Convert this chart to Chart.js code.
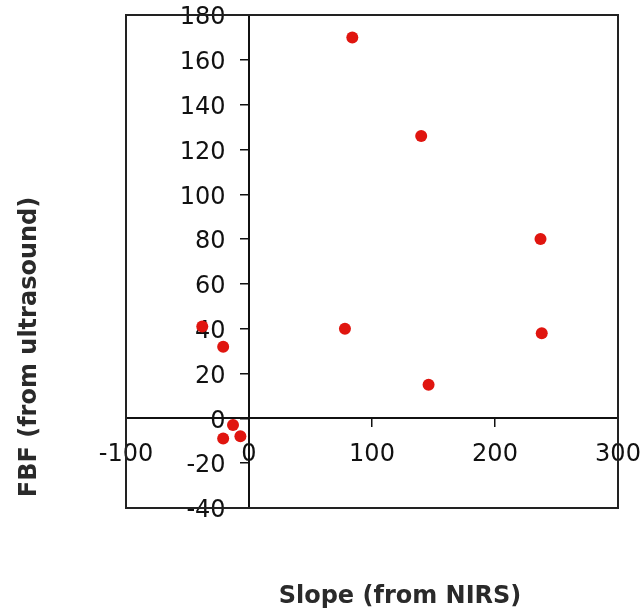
<!DOCTYPE html>
<html>
<head>
<meta charset="utf-8">
<script src="https://cdn.jsdelivr.net/npm/chart.js@4"></script>
<style>
  body { margin: 0; background: #fff; }
</style>
</head>
<body>
<canvas id="myChart" width="644" height="611"></canvas>
<script>
// data
const slopeNirs = [84, 140, 237, 238, 146, 78, -38, -21, -13, -7, -21];
const fbfUltrasound = [170, 126, 80, 38, 15, 40, 41, 32, -3, -8, -9];
const xTicks = [-100, 0, 100, 200, 300];
const yTicks = [-40, -20, 0, 20, 40, 60, 80, 100, 120, 140, 160, 180];

const points = slopeNirs.map((x, i) => ({ x: x, y: fbfUltrasound[i] }));

const tickFont = { family: "DejaVu Sans", size: 24 };
const ink = "#111";

// box round the plot and the two axis titles
const frame = {
  id: "frame",
  afterDraw(chart) {
    const c = chart.ctx;
    const a = chart.chartArea;
    c.save();
    c.strokeStyle = "#222";
    c.lineWidth = 2;
    c.strokeRect(a.left, a.top, a.right - a.left, a.bottom - a.top);
    c.fillStyle = "#2a2a2a";
    c.font = "bold 24px 'DejaVu Sans'";
    c.textAlign = "center";
    c.textBaseline = "middle";
    c.fillText("Slope (from NIRS)", 400, 597);
    c.translate(30, 347);
    c.rotate(-Math.PI / 2);
    c.fillText("FBF (from ultrasound)", 0, 0);
    c.restore();
  }
};

// axes sit inside the plot, so they take no room in the layout
const noRoom = (s) => {
  if (s.isHorizontal()) s.height = 0; else s.width = 0;
  s.paddingLeft = s.paddingRight = s.paddingTop = s.paddingBottom = 0;
};

let ctx = document.getElementById("myChart").getContext("2d");
let myChart = new Chart(ctx, {
  type: "scatter",
  data: {
    datasets: [
      {
        label: "FBF",
        data: points,
        backgroundColor: "#e0150f",
        borderWidth: 0,
        pointRadius: 6,
        xAxisID: "x",
        yAxisID: "y",
      },
    ],
  },
  options: {
    responsive: false,
    animation: false,
    layout: { padding: { left: 126, top: 15, right: 26, bottom: 103 } },
    plugins: { legend: { display: false }, tooltip: { enabled: false } },
    scales: {
      x: {
        type: "linear",
        min: -100,
        max: 300,
        position: { y: 0 },
        afterFit: noRoom,
        afterBuildTicks: (s) => { s.ticks = xTicks.map(v => ({ value: v })); },
        border: { display: true, color: ink, width: 2 },
        grid: { drawOnChartArea: false, drawTicks: true, tickLength: 8, color: ink, lineWidth: 1.5 },
        ticks: { autoSkip: false, maxRotation: 0, padding: 14, color: ink, font: tickFont },
      },
      y: {
        type: "linear",
        min: -40,
        max: 180,
        position: { x: 0 },
        afterFit: noRoom,
        afterBuildTicks: (s) => { s.ticks = yTicks.map(v => ({ value: v })); },
        border: { display: true, color: ink, width: 2 },
        grid: { drawOnChartArea: false, drawTicks: true, tickLength: 8, color: ink, lineWidth: 1.5 },
        ticks: { display: false },
      },
      yLabels: {
        type: "linear",
        axis: "y",
        min: -40,
        max: 180,
        position: { x: -19 },
        afterFit: noRoom,
        afterBuildTicks: (s) => { s.ticks = yTicks.map(v => ({ value: v })); },
        border: { display: false },
        grid: { display: false },
        ticks: { autoSkip: false, labelOffset: 3, color: ink, font: tickFont },
      },
    },
  },
  plugins: [frame],
});
</script>
</body>
</html>
